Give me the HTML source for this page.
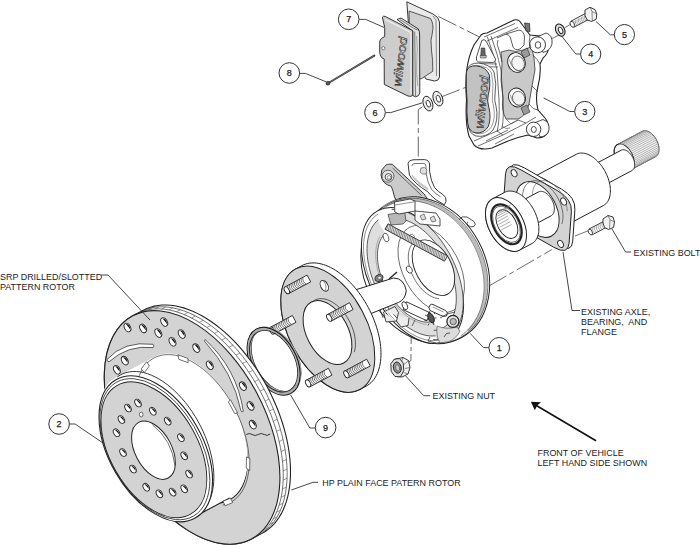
<!DOCTYPE html>
<html><head><meta charset="utf-8"><style>
html,body{margin:0;padding:0;background:#fff;width:700px;height:545px;overflow:hidden}
svg{display:block;position:absolute;left:0;top:0}
text{font-family:"Liberation Sans",sans-serif;font-size:8.95px;fill:#222}
.c{fill:#fff;stroke:#333;stroke-width:1}
.n{text-anchor:middle;font-size:9px;fill:#222;stroke:#222;stroke-width:0.25}
.l{fill:none;stroke:#333;stroke-width:0.9}
.d{fill:none;stroke:#444;stroke-width:0.9;stroke-dasharray:7 3 2 3}
.k{stroke:#222;stroke-width:0.9;stroke-linejoin:round}
.g{fill:#dcdcdc}
.w{fill:#fff}
.logo{font-family:"Liberation Sans",sans-serif;font-style:italic;fill:#f4f4f4;stroke:#333;stroke-width:0.55}
</style></head><body>
<svg width="700" height="545" viewBox="0 0 700 545">
<!--PARTS-->
<path d="M438.5,16.5 L478.9,36.7" stroke="#444" stroke-width="0.8" stroke-dasharray="20 3.5 5 3.5" fill="none"/>
<path d="M441,97 L473.4,84.4" stroke="#444" stroke-width="0.8" stroke-dasharray="20 3.5 5 3.5" fill="none"/>
<path d="M422.5,106.8 L418.3,109.5 L418.3,158" stroke="#444" stroke-width="0.8" stroke-dasharray="20 3.5 5 3.5" fill="none"/>
<path d="M489,286 L551.8,249.6" stroke="#444" stroke-width="0.8" stroke-dasharray="20 3.5 5 3.5" fill="none"/>
<path d="M411.4,322 L410.9,360.5 L406.6,364" stroke="#444" stroke-width="0.8" stroke-dasharray="22 3 4 3" fill="none"/>
<path d="M549,40 L563,33" stroke="#333" stroke-width="0.7"/>
<path d="M565,27.5 L570,24.6" stroke="#333" stroke-width="0.7"/>
<path d="M575,236 L590,230" stroke="#333" stroke-width="0.7"/>
<path d="M406.8,1.8 L433,14 Q439,17 439.5,22 L439.5,77 Q439,81 434.5,81 L426,79 L424,76 L412,71 Z" fill="#eaeaea" stroke="#222" stroke-width="0.9"/>
<path d="M409,11 L430.5,18.5 Q434,24 432.5,32 Q430,40 431.5,50 Q433,60 432.8,71.3 L421,79 L414,76 L409.5,30 Z" fill="#cfcfcf" stroke="#333" stroke-width="0.8"/>
<path d="M433,16 L436,20 L436.5,76" fill="none" stroke="#444" stroke-width="0.6"/>
<path d="M397,19.5 L401,18 L418.2,28.8 Q419.6,31 419.6,34 L419.8,93 Q419,96.5 415.5,96.8 L412.7,95.5 L412.7,31 Z" fill="#e3e3e3" stroke="#222" stroke-width="0.9"/>
<path d="M400,19.6 L415,29 L418.8,30.2 M414.7,31.6 L415.5,96" fill="none" stroke="#333" stroke-width="0.6"/>
<path d="M416.5,36 Q418,48 416.8,60 Q416,72 417.8,86" fill="none" stroke="#666" stroke-width="0.5"/>
<path d="M382.4,17.2 Q383,15.8 385.2,16.4 L412.7,30.6 L412.7,95.5 Q411,97 408,96 L384.3,84.5 L384.2,59 Q379.2,57.5 379.7,50 L379.8,41 Q380.5,38.2 384.7,36.5 L384.7,27.5 Z" fill="#cdcdcd" stroke="#222" stroke-width="0.9"/>
<path d="M385.3,19.5 L411,32.5 L411,94" fill="none" stroke="#f2f2f2" stroke-width="1.1"/>
<circle cx="383.3" cy="48.2" r="1.6" fill="#fff" stroke="#333" stroke-width="0.6"/>
<text transform="translate(401,87) rotate(-83)" class="logo" style="font-size:12px" textLength="50" lengthAdjust="spacingAndGlyphs">wilwood</text>
<path d="M481,35 Q483,33 487,33 L514,20 Q519,19 521,23 L524,27 L530,35 L540,36 Q549,38 549,47 Q548,54 543,58 L540,64 Q541,75 538,86 Q535,98 538,110 L545,118 Q550,124 548,132 Q545,138 537,138 L528,135 Q518,137 508,141 L492,148 Q480,151 474,145 L469,136 Q465,122 466.5,100 Q465,82 467,68 Q469,55 474,45 Z" fill="#fff" stroke="#222" stroke-width="1.1"/>
<path d="M501,52 L509,50 Q515,53 523,50 L531,47 Q533,52 534,58 L535,70 L532,86 L529,104 Q526,116 518,119 L506,119 Q501,110 503,98 L501,80 L502,64 Z" fill="#c9c9c9" stroke="#333" stroke-width="0.8"/>
<ellipse cx="516.5" cy="62.5" rx="8.6" ry="10.0" transform="rotate(-22 516.5 62.5)" fill="#fff" stroke="#222" stroke-width="0.9"/>
<ellipse cx="518.1" cy="63.3" rx="6.2" ry="7.4" transform="rotate(-22 518.1 63.3)" fill="#f4f4f4" stroke="#444" stroke-width="0.7"/>
<path d="M509.5,59.5 Q511.5,70.0 520.0,71.5" fill="none" stroke="#555" stroke-width="0.6"/>
<ellipse cx="517" cy="97.5" rx="8.3" ry="9.6" transform="rotate(-22 517 97.5)" fill="#fff" stroke="#222" stroke-width="0.9"/>
<ellipse cx="518.6" cy="98.3" rx="6.0" ry="7.1" transform="rotate(-22 518.6 98.3)" fill="#f4f4f4" stroke="#444" stroke-width="0.7"/>
<path d="M510.3,94.6 Q512.2,104.7 520.4,106.1" fill="none" stroke="#555" stroke-width="0.6"/>
<path d="M484,37 L515,23.5 M487,41 L518,27.5" stroke="#333" stroke-width="0.7" fill="none"/>
<path d="M497,38 L505,34.5 Q509,34 510.5,38 L513,47 Q515,51 520,49 L524,45 M506,34 L519,30 Q524,31 524.5,37 L524,45" fill="none" stroke="#333" stroke-width="0.8"/>
<path d="M498,40 Q496,44 499,50 L502,62" fill="none" stroke="#333" stroke-width="0.7"/>
<path d="M487.3,36.6 Q494,55 497,70 L499,100 Q500,120 497,132 M491,36 Q498,55 501,70 L503,100 Q504,118 502,128" fill="none" stroke="#333" stroke-width="0.7"/>
<path d="M481.8,40.5 Q484,38.5 486,41 L495.5,59 Q496,62.5 492.5,62.5 L478.5,62 Q475.5,61 476.5,57 Z" fill="#fff" stroke="#222" stroke-width="0.8"/>
<path d="M481.3,48 L484.7,48 L485.3,55.5 L480.8,55.5 Z" fill="#666" stroke="#222" stroke-width="0.6"/><path d="M480,55.5 L486.5,55.5 L486,58 L480.5,58 Z" fill="#bbb" stroke="#222" stroke-width="0.5"/>
<path d="M476,63.5 L497,64 M476.5,66.5 L498,67" stroke="#333" stroke-width="0.7"/>
<path d="M467,69 Q470,63 478,63 Q490,64 494,72 Q497,84 495,95 Q494,100 496,106 Q499,120 493,130 Q486,138 476,136 Q469,134 468,124 Q466,112 467,100 Q466,84 467,69 Z" fill="#fff" stroke="#333" stroke-width="0.8"/>
<path d="M468.5,70 Q471,65.5 478,65.5 Q488,66.5 491.5,73 Q494,84 492.5,95 Q491.5,100 493.5,106 Q496,119 491,127.5 Q485,135 477,133.5 Q471,132 470,123 Q468.5,112 469,100 Q468.5,84 468.5,70 Z" fill="none" stroke="#555" stroke-width="0.6"/>
<path d="M466.3,72 Q468.3,65.3 476,65.8 Q486.5,67 489.3,75 Q490.8,87 488.2,95 Q486.8,101 488.8,107 Q491.5,118 488.3,126.5 Q484,133.5 476,133 Q468.8,132 467.8,123.5 Q466.3,112 467.1,101 Q465.8,87 466.3,72 Z" fill="#c2c2c2" stroke="#222" stroke-width="0.9"/>
<text transform="translate(483.2,129) rotate(-84)" class="logo" style="font-size:12.5px" textLength="53" lengthAdjust="spacingAndGlyphs">wilwood</text>
<path d="M537,37 L546,33 Q553,35 552,44 Q550,51 543,52.5 Z" fill="#fff" stroke="#222" stroke-width="0.8"/>
<circle cx="537.5" cy="44.8" r="8" fill="#fff" stroke="#222" stroke-width="0.9"/><ellipse cx="538" cy="45" rx="2.8" ry="3.3" fill="#fff" stroke="#222" stroke-width="0.8"/>
<path d="M534,123 L543,119.5 Q550,122 549,130 Q547,136.5 540,137 Z" fill="#fff" stroke="#222" stroke-width="0.8"/>
<circle cx="533.6" cy="129.3" r="7.2" fill="#fff" stroke="#222" stroke-width="0.9"/><ellipse cx="533.8" cy="129.5" rx="2.5" ry="3" fill="#fff" stroke="#222" stroke-width="0.8"/>
<path d="M524.5,23 L526,31 L530,31.5 L529.5,23.5 Z" fill="#777" stroke="#222" stroke-width="0.7"/>
<path d="M530,35 Q528,42 531,48 M533,55 Q538,60 540,64 M532,86 Q536,90 538,92 M529,104 Q533,110 538,110" fill="none" stroke="#333" stroke-width="0.7"/>
<path d="M521,52 L527,48 L530,55 L524,58 Z M521,108 L527,105 L530,112 L524,115 Z" fill="#999" stroke="#222" stroke-width="0.6"/>
<path d="M474,141 L497,131 L518,120 M478,146 L503,135 L526,123 L536,117 M497,131 L503,135 M518,120 L526,123 M486,141 L508,130 M495,144 L514,134" fill="none" stroke="#333" stroke-width="0.7"/>
<path d="M506,119 L511,124 L518,120 M502,126 Q506,130 510,128" fill="none" stroke="#444" stroke-width="0.6"/>
<path d="M328.5,83 L374.3,55.6" stroke="#333" stroke-width="2" stroke-linecap="round"/>
<path d="M329,82.7 L374,55.8" stroke="#888" stroke-width="0.7"/>
<circle cx="328" cy="83.2" r="1.9" fill="#555" stroke="#222" stroke-width="0.6"/>
<ellipse cx="437.9" cy="98.6" rx="4.6" ry="7.6" transform="rotate(-20 437.9 98.6)" fill="#eee" stroke="#222" stroke-width="0.9"/>
<ellipse cx="438.29999999999995" cy="98.89999999999999" rx="2" ry="3.6" transform="rotate(-20 437.9 98.6)" fill="#fff" stroke="#222" stroke-width="0.8"/>
<ellipse cx="427.9" cy="103.6" rx="4.6" ry="7.6" transform="rotate(-20 427.9 103.6)" fill="#eee" stroke="#222" stroke-width="0.9"/>
<ellipse cx="428.29999999999995" cy="103.89999999999999" rx="2" ry="3.6" transform="rotate(-20 427.9 103.6)" fill="#fff" stroke="#222" stroke-width="0.8"/>
<ellipse cx="560.2" cy="30.1" rx="4.4" ry="6.4" transform="rotate(-25 560.2 30.1)" fill="#ddd" stroke="#222" stroke-width="1.1"/>
<ellipse cx="560.6" cy="30.4" rx="2" ry="3.4" transform="rotate(-25 560.6 30.4)" fill="#fff" stroke="#222" stroke-width="0.9"/>
<path d="M587.5,12.3 L571,21.2 L573.8,27.2 L590.5,18.5 Z" fill="#fff" stroke="#222" stroke-width="0.9"/>
<path d="M574.0,21.0 q-0.9,3 1.6,5.6 M575.5,20.2 q-0.9,3 1.6,5.6 M577.0,19.4 q-0.9,3 1.6,5.6 M578.5,18.6 q-0.9,3 1.6,5.6 M580.0,17.8 q-0.9,3 1.6,5.6 M581.5,16.9 q-0.9,3 1.6,5.6 M583.0,16.1 q-0.9,3 1.6,5.6 M584.5,15.3 q-0.9,3 1.6,5.6 M586.0,14.5 q-0.9,3 1.6,5.6" fill="none" stroke="#666" stroke-width="0.55"/>
<ellipse cx="572.3" cy="24.3" rx="1.9" ry="3.2" transform="rotate(-28 572.3 24.3)" fill="#fff" stroke="#222" stroke-width="0.8"/>
<path d="M585,10 L590,7.3 L595,9.6 L596.8,14 L596.2,19.3 L591.5,21.5 L587,19.8 L585,15.5 Z" fill="#f2f2f2" stroke="#222" stroke-width="0.9"/>
<path d="M590,7.3 L592,11.5 L592.3,20.8 M592,11.5 L596.8,14" fill="none" stroke="#444" stroke-width="0.6"/>
<path d="M604.6,221 L589,229 L591.8,235 L607,227 Z" fill="#fff" stroke="#222" stroke-width="0.9"/>
<path d="M591.0,228.8 q-0.9,3 1.6,5.4 M592.8,227.8 q-0.9,3 1.6,5.4 M594.7,226.9 q-0.9,3 1.6,5.4 M596.5,225.9 q-0.9,3 1.6,5.4 M598.3,224.9 q-0.9,3 1.6,5.4 M600.2,224.0 q-0.9,3 1.6,5.4 M602.0,223.0 q-0.9,3 1.6,5.4" fill="none" stroke="#666" stroke-width="0.55"/>
<ellipse cx="590.3" cy="232" rx="1.8" ry="3" transform="rotate(-28 590.3 232)" fill="#fff" stroke="#222" stroke-width="0.8"/>
<path d="M603,219 L608,215.5 L613,217 L614.5,222 L613.5,227.5 L608.5,229.5 L604.5,227.5 L603,223 Z" fill="#f2f2f2" stroke="#222" stroke-width="0.9"/>
<path d="M608,215.5 L610,219.8 L609.5,229 M610,219.8 L614.5,222" fill="none" stroke="#444" stroke-width="0.6"/>
<path d="M394,359.5 L403,357.5 L408.5,360.5 L410,367.5 L408,374 L402,377 L396.5,376.5 Z" fill="#f0f0f0" stroke="#222" stroke-width="0.9"/>
<path d="M403,357.5 L401.5,362 M408.5,360.5 L404,364.5 M410,367.5 L405,368.5 M408,374 L403.5,372.5" fill="none" stroke="#444" stroke-width="0.6"/>
<path d="M394.2,359.3 L399.5,358.5 L403.2,363 L403.8,370.5 L400.5,376.8 L395,376.5 L391.2,371.5 L390.8,363.8 Z" fill="#e2e2e2" stroke="#222" stroke-width="0.9"/>
<ellipse cx="397.3" cy="367.6" rx="3.9" ry="5.6" transform="rotate(-12 397.3 367.6)" fill="#999" stroke="#222" stroke-width="0.9"/>
<ellipse cx="397.6" cy="367.8" rx="2" ry="3.2" transform="rotate(-12 397.6 367.8)" fill="#ccc" stroke="#444" stroke-width="0.6"/>
<path d="M630.92,169.75 L630.37,170.00 L629.80,170.18 L629.19,170.31 L628.57,170.37 L627.92,170.36 L627.25,170.29 L626.57,170.16 L625.88,169.96 L625.18,169.70 L624.48,169.38 L623.77,169.00 L623.07,168.56 L622.37,168.07 L621.68,167.52 L621.00,166.92 L620.34,166.28 L619.69,165.58 L619.07,164.85 L618.48,164.08 L617.91,163.28 L617.37,162.45 L616.87,161.59 L616.40,160.71 L615.97,159.81 L615.58,158.89 L615.23,157.97 L614.92,157.05 L614.66,156.12 L614.45,155.21 L614.29,154.30 L614.17,153.40 L614.10,152.52 L614.08,151.66 L614.11,150.84 L614.19,150.04 L614.32,149.27 L614.50,148.55 L614.72,147.86 L614.99,147.22 L615.30,146.63 L615.66,146.09 L616.06,145.61 L616.50,145.18 L616.98,144.81 L617.49,144.49 L642.21,131.35 L642.62,131.16 L643.04,131.00 L643.48,130.87 L643.93,130.79 L644.40,130.74 L644.88,130.72 L645.37,130.74 L645.87,130.80 L646.38,130.90 L646.90,131.03 L647.42,131.19 L647.95,131.39 L648.48,131.63 L649.01,131.90 L649.54,132.20 L650.06,132.53 L650.59,132.90 L651.11,133.29 L651.62,133.72 L652.13,134.17 L652.63,134.65 L653.12,135.16 L653.59,135.69 L654.06,136.24 L654.51,136.82 L654.94,137.41 L655.36,138.02 L655.76,138.65 L656.14,139.29 L656.50,139.95 L656.84,140.61 L657.16,141.29 L657.46,141.97 L657.73,142.66 L657.98,143.35 L658.20,144.05 L658.40,144.74 L658.58,145.43 L658.72,146.12 L658.84,146.80 L658.94,147.47 L659.00,148.14 L659.04,148.79 L659.05,149.43 L659.03,150.05 L658.98,150.66 L658.91,151.25 L658.81,151.82 L658.68,152.37 L658.53,152.90 L658.35,153.40 L658.14,153.87 L657.91,154.32 L657.65,154.74 L657.37,155.13 L657.07,155.49 L656.74,155.82 L656.39,156.11 L656.03,156.37 L655.64,156.60 Z" fill="#f4f4f4" stroke="#222" stroke-width="0.9"/>
<path d="M617.8,144.4 L642.5,131.2 M618.9,144.0 L643.6,130.8 M620.2,143.9 L644.9,130.7 M621.5,144.0 L646.2,130.9 M622.9,144.4 L647.6,131.3 M624.3,145.0 L649.0,131.9 M625.7,145.9 L650.4,132.8 M627.1,147.0 L651.8,133.9 M628.4,148.3 L653.1,135.2 M629.6,149.8 L654.4,136.6 M630.8,151.4 L655.5,138.2 M631.8,153.1 L656.5,139.9 M632.6,154.9 L657.4,141.7 M633.3,156.7 L658.1,143.6 M633.9,158.6 L658.6,145.4 M634.2,160.4 L658.9,147.2 M634.3,162.2 L659.0,149.0 M634.3,163.8 L659.0,150.7 M634.0,165.3 L658.7,152.2 M633.6,166.7 L658.3,153.6 M632.9,167.9 L657.7,154.7 M632.1,168.9 L656.9,155.7 M631.2,169.6 L655.9,156.5" stroke="#888" stroke-width="0.6"/>
<ellipse transform="translate(624.20,157.12) rotate(-28)" rx="8.58" ry="14.30" fill="none" stroke="#222" stroke-width="0.9"/>
<path d="M590.86,192.40 L590.43,192.60 L589.96,192.75 L589.48,192.85 L588.98,192.90 L588.45,192.90 L587.92,192.84 L587.37,192.73 L586.82,192.58 L586.25,192.37 L585.69,192.11 L585.12,191.80 L584.55,191.45 L583.99,191.05 L583.43,190.61 L582.89,190.13 L582.36,189.61 L581.84,189.05 L581.34,188.47 L580.86,187.85 L580.40,187.20 L579.97,186.53 L579.57,185.84 L579.19,185.13 L578.84,184.41 L578.53,183.67 L578.25,182.93 L578.00,182.19 L577.79,181.45 L577.62,180.71 L577.49,179.98 L577.40,179.26 L577.34,178.55 L577.33,177.86 L577.35,177.19 L577.41,176.55 L577.52,175.94 L577.66,175.35 L577.84,174.80 L578.06,174.29 L578.31,173.81 L578.60,173.38 L578.92,172.99 L579.27,172.64 L579.65,172.34 L580.07,172.09 L621.12,150.26 L621.45,150.11 L621.79,149.98 L622.14,149.88 L622.51,149.81 L622.88,149.77 L623.27,149.76 L623.67,149.78 L624.07,149.82 L624.48,149.90 L624.89,150.00 L625.31,150.14 L625.74,150.30 L626.16,150.49 L626.59,150.70 L627.01,150.95 L627.44,151.22 L627.86,151.51 L628.28,151.83 L628.69,152.17 L629.10,152.53 L629.50,152.92 L629.89,153.33 L630.28,153.75 L630.65,154.20 L631.01,154.66 L631.36,155.14 L631.70,155.63 L632.02,156.13 L632.32,156.65 L632.61,157.18 L632.89,157.71 L633.15,158.26 L633.38,158.81 L633.60,159.36 L633.80,159.92 L633.98,160.47 L634.14,161.03 L634.28,161.59 L634.40,162.14 L634.50,162.69 L634.57,163.23 L634.62,163.76 L634.65,164.29 L634.66,164.80 L634.65,165.31 L634.61,165.80 L634.55,166.27 L634.47,166.73 L634.37,167.17 L634.24,167.59 L634.10,167.99 L633.93,168.38 L633.75,168.74 L633.54,169.07 L633.31,169.39 L633.07,169.68 L632.81,169.94 L632.53,170.18 L632.23,170.39 L631.92,170.57 Z" fill="#fff" stroke="#222" stroke-width="1"/>
<path d="M558.46,229.45 L557.36,229.96 L556.19,230.34 L554.97,230.59 L553.70,230.71 L552.39,230.70 L551.04,230.56 L549.66,230.29 L548.25,229.89 L546.83,229.36 L545.40,228.71 L543.97,227.94 L542.54,227.05 L541.13,226.04 L539.73,224.93 L538.35,223.72 L537.01,222.41 L535.71,221.01 L534.45,219.52 L533.24,217.96 L532.08,216.33 L530.99,214.64 L529.97,212.90 L529.02,211.11 L528.15,209.29 L527.36,207.44 L526.65,205.57 L526.03,203.70 L525.50,201.83 L525.07,199.96 L524.74,198.11 L524.50,196.30 L524.36,194.52 L524.32,192.78 L524.38,191.10 L524.54,189.48 L524.80,187.93 L525.16,186.46 L525.62,185.07 L526.16,183.77 L526.80,182.58 L527.53,181.48 L528.34,180.50 L529.23,179.62 L530.20,178.87 L531.24,178.24 L576.27,154.29 L577.09,153.90 L577.95,153.58 L578.84,153.33 L579.76,153.16 L580.71,153.05 L581.68,153.02 L582.68,153.07 L583.69,153.19 L584.72,153.38 L585.77,153.64 L586.83,153.98 L587.90,154.38 L588.97,154.86 L590.04,155.41 L591.12,156.02 L592.19,156.70 L593.25,157.44 L594.31,158.24 L595.35,159.10 L596.38,160.02 L597.39,161.00 L598.38,162.02 L599.34,163.10 L600.28,164.22 L601.20,165.38 L602.08,166.59 L602.92,167.83 L603.74,169.10 L604.51,170.40 L605.24,171.73 L605.93,173.08 L606.58,174.45 L607.18,175.84 L607.74,177.23 L608.24,178.64 L608.70,180.04 L609.10,181.45 L609.45,182.85 L609.75,184.25 L609.99,185.63 L610.18,187.00 L610.31,188.34 L610.39,189.67 L610.41,190.96 L610.37,192.23 L610.28,193.46 L610.13,194.66 L609.92,195.81 L609.67,196.93 L609.35,197.99 L608.99,199.01 L608.57,199.97 L608.10,200.88 L607.58,201.73 L607.01,202.52 L606.39,203.25 L605.73,203.91 L605.03,204.51 L604.28,205.04 L603.49,205.51 Z" fill="#fff" stroke="#222" stroke-width="1"/>
<path d="M528.36,209.75 L527.53,207.88 L526.80,205.98 L526.15,204.08 L525.60,202.18 L525.14,200.28 L524.78,198.40 L524.53,196.55 L524.37,194.74 L524.32,192.97 L524.37,191.25 L524.53,189.60 L524.79,188.02 L525.14,186.52 L525.60,185.11 L526.15,183.79 L526.80,182.58 L527.54,181.47 L528.36,180.47 L529.27,179.59 L530.26,178.83 L531.32,178.19 L532.45,177.69 L533.64,177.32 L534.88,177.08 L536.18,176.97 L537.52,177.00 L538.90,177.17 L540.30,177.47 L541.73,177.90 L543.18,178.46 L544.63,179.15 L546.09,179.96 L547.53,180.89 L548.97,181.94 L550.38,183.10 L551.77,184.37 L553.12,185.73 L554.43,187.18 L555.69,188.71 L556.90,190.33 L558.05,192.01 L559.13,193.74 L560.14,195.53 L561.07,197.37 L561.92,199.23 L562.69,201.12 L563.36,203.02 L563.94,204.92" fill="none" stroke="#222" stroke-width="0.9"/>
<path d="M509.1,172.0 Q509.9,159.6 524.4,167.9 L561.3,189.0 Q575.8,197.3 574.9,209.7 L572.7,241.3 Q571.8,253.7 557.3,245.4 L520.4,224.3 Q506.0,216.0 506.8,203.6 Z" fill="#fff" stroke="#222" stroke-width="1"/>
<path d="M505.5,173.9 Q506.4,161.5 520.9,169.8 L557.8,190.9 Q572.2,199.2 571.4,211.6 L569.1,243.1 Q568.3,255.5 553.8,247.3 L516.9,226.2 Q502.4,217.9 503.3,205.5 Z" fill="#d3d3d3" stroke="#222" stroke-width="1"/>
<ellipse transform="translate(537.50,209.50) rotate(-28)" rx="18.60" ry="30.00" fill="#fff" stroke="#222" stroke-width="0.9"/>
<path d="M522.95,201.38 L522.74,199.60 L522.62,197.85 L522.61,196.15 L522.70,194.50 L522.89,192.91 L523.17,191.39 L523.56,189.94 L524.03,188.58 L524.61,187.31 L525.27,186.13 L526.02,185.06 L526.85,184.09 L527.76,183.24 L528.75,182.50 L529.81,181.88 L530.93,181.39 L532.11,181.02 L533.34,180.77 L534.62,180.66 L535.94,180.68 L537.30,180.82 L538.68,181.10 L540.08,181.50 L541.50,182.02 L542.92,182.67 L544.34,183.44 L545.76,184.32 L547.15,185.32 L548.53,186.42 L549.88,187.62 L551.20,188.91 L552.47,190.30 L553.69,191.76 L554.86,193.30 L555.97,194.91 L557.02,196.57 L557.99,198.28 L558.89,200.04 L559.71,201.83 L560.45,203.64 L561.09,205.47 L561.65,207.31 L562.11,209.14 L562.48,210.96 L562.75,212.75 L562.92,214.52 L562.99,216.25 L562.96,217.93 L562.83,219.56 L562.60,221.12 L562.27,222.61 L561.85,224.02" fill="none" stroke="#444" stroke-width="0.7"/>
<path d="M533.66,202.24 L533.28,200.69 L532.97,199.15 L532.75,197.62 L532.61,196.12 L532.55,194.66 L532.58,193.23 L532.70,191.85 L532.89,190.53 L533.17,189.27 L533.53,188.07 L533.97,186.94 L534.49,185.90 L535.09,184.93 L535.75,184.06 L536.48,183.27 L537.28,182.58 L538.14,181.99 L539.06,181.51 L540.03,181.12 L541.05,180.85 L542.11,180.68 L543.21,180.62 L544.34,180.66 L545.49,180.82 L546.67,181.08 L547.87,181.45 L549.07,181.93 L550.28,182.51 L551.49,183.18 L552.68,183.95 L553.87,184.82 L555.03,185.77 L556.17,186.81 L557.28,187.93 L558.35,189.12 L559.38,190.37 L560.37,191.69 L561.30,193.06 L562.18,194.48 L563.00,195.94 L563.75,197.44 L564.44,198.96 L565.06,200.50 L565.60,202.05 L566.06,203.61 L566.45,205.16 L566.75,206.71 L566.97,208.23 L567.11,209.73 L567.17,211.20" fill="none" stroke="#555" stroke-width="0.6"/>
<ellipse transform="translate(514.1,173.2) rotate(-28)" rx="2.6" ry="3.8" fill="#fff" stroke="#222" stroke-width="0.9"/>
<ellipse transform="translate(563.6,201.5) rotate(-28)" rx="2.6" ry="3.8" fill="#fff" stroke="#222" stroke-width="0.9"/>
<ellipse transform="translate(560.6,243.9) rotate(-28)" rx="2.6" ry="3.8" fill="#fff" stroke="#222" stroke-width="0.9"/>
<ellipse transform="translate(511.1,215.6) rotate(-28)" rx="2.6" ry="3.8" fill="#fff" stroke="#222" stroke-width="0.9"/>
<path d="M512.34,236.42 L511.82,236.66 L511.28,236.83 L510.71,236.95 L510.12,237.01 L509.51,237.00 L508.88,236.94 L508.24,236.81 L507.58,236.62 L506.92,236.38 L506.26,236.08 L505.59,235.72 L504.93,235.30 L504.27,234.84 L503.61,234.32 L502.98,233.75 L502.35,233.14 L501.74,232.49 L501.16,231.80 L500.59,231.07 L500.06,230.31 L499.55,229.53 L499.07,228.72 L498.63,227.88 L498.22,227.04 L497.86,226.18 L497.53,225.31 L497.24,224.43 L496.99,223.56 L496.79,222.69 L496.64,221.83 L496.53,220.99 L496.46,220.16 L496.44,219.35 L496.47,218.57 L496.55,217.81 L496.67,217.09 L496.84,216.41 L497.05,215.76 L497.30,215.16 L497.60,214.60 L497.94,214.09 L498.31,213.63 L498.73,213.23 L499.18,212.87 L499.66,212.58 L538.51,191.92 L538.89,191.74 L539.29,191.59 L539.71,191.48 L540.14,191.39 L540.58,191.35 L541.03,191.33 L541.50,191.35 L541.97,191.41 L542.45,191.50 L542.94,191.62 L543.43,191.78 L543.93,191.96 L544.43,192.19 L544.93,192.44 L545.43,192.73 L545.92,193.04 L546.42,193.39 L546.91,193.76 L547.40,194.16 L547.87,194.59 L548.34,195.04 L548.81,195.52 L549.26,196.02 L549.69,196.54 L550.12,197.09 L550.53,197.65 L550.92,198.22 L551.30,198.82 L551.66,199.42 L552.00,200.04 L552.32,200.67 L552.62,201.31 L552.90,201.95 L553.16,202.60 L553.40,203.26 L553.61,203.91 L553.80,204.56 L553.96,205.22 L554.10,205.87 L554.21,206.51 L554.30,207.15 L554.36,207.77 L554.40,208.39 L554.41,208.99 L554.39,209.58 L554.35,210.16 L554.28,210.71 L554.18,211.25 L554.06,211.77 L553.91,212.26 L553.74,212.74 L553.55,213.19 L553.33,213.61 L553.09,214.00 L552.82,214.37 L552.54,214.71 L552.23,215.02 L551.90,215.30 L551.55,215.55 L551.19,215.76 Z" fill="#fff" stroke="#222" stroke-width="1"/>
<path d="M519.61,250.11 L518.51,250.61 L517.34,250.99 L516.12,251.24 L514.85,251.37 L513.54,251.36 L512.19,251.21 L510.81,250.94 L509.40,250.54 L507.98,250.02 L506.55,249.37 L505.12,248.59 L503.69,247.70 L502.28,246.70 L500.88,245.59 L499.50,244.38 L498.16,243.07 L496.86,241.67 L495.60,240.18 L494.39,238.62 L493.23,236.99 L492.14,235.30 L491.12,233.56 L490.17,231.77 L489.30,229.95 L488.51,228.10 L487.80,226.23 L487.18,224.36 L486.66,222.48 L486.22,220.62 L485.89,218.77 L485.65,216.95 L485.51,215.17 L485.47,213.44 L485.53,211.76 L485.70,210.14 L485.96,208.59 L486.31,207.11 L486.77,205.73 L487.31,204.43 L487.95,203.23 L488.68,202.14 L489.49,201.15 L490.38,200.28 L491.35,199.53 L492.39,198.89 L504.75,192.32 L505.57,191.93 L506.43,191.61 L507.32,191.36 L508.24,191.18 L509.19,191.08 L510.16,191.05 L511.16,191.10 L512.17,191.21 L513.21,191.40 L514.25,191.67 L515.31,192.00 L516.38,192.41 L517.45,192.89 L518.52,193.43 L519.60,194.05 L520.67,194.72 L521.73,195.46 L522.79,196.27 L523.83,197.13 L524.86,198.05 L525.87,199.02 L526.86,200.05 L527.83,201.12 L528.77,202.25 L529.68,203.41 L530.56,204.61 L531.41,205.85 L532.22,207.13 L532.99,208.43 L533.72,209.76 L534.42,211.11 L535.06,212.48 L535.67,213.86 L536.22,215.26 L536.72,216.66 L537.18,218.07 L537.58,219.48 L537.93,220.88 L538.23,222.27 L538.47,223.66 L538.66,225.02 L538.79,226.37 L538.87,227.69 L538.89,228.99 L538.85,230.26 L538.76,231.49 L538.61,232.69 L538.41,233.84 L538.15,234.95 L537.83,236.02 L537.47,237.03 L537.05,238.00 L536.58,238.90 L536.06,239.76 L535.49,240.55 L534.87,241.27 L534.21,241.94 L533.51,242.54 L532.76,243.07 L531.98,243.53 Z" fill="#fff" stroke="#222" stroke-width="1"/>
<ellipse transform="translate(506.00,224.50) rotate(-28)" rx="17.40" ry="29.00" fill="#fff" stroke="#222" stroke-width="1"/>
<ellipse transform="translate(506.44,224.27) rotate(-28)" rx="12.90" ry="21.50" fill="#fff" stroke="#222" stroke-width="2.2"/>
<ellipse transform="translate(506.44,224.27) rotate(-28)" rx="11.76" ry="19.60" fill="#fff" stroke="#444" stroke-width="0.7"/>
<ellipse transform="translate(506.88,224.03) rotate(-28)" rx="9.30" ry="15.50" fill="#fff" stroke="#222" stroke-width="0.9"/>
<path d="M501.2,230.0 L511.8,224.4 M499.6,227.3 L510.2,221.7 M498.4,224.5 L508.9,218.8 M497.5,221.6 L508.1,215.9 M497.2,218.7 L507.8,213.1 M497.3,216.1 L507.9,210.5 M497.8,213.9 L508.4,208.2 M498.8,212.0 L509.4,206.4 M500.2,210.6 L510.8,205.0" stroke="#777" stroke-width="0.6"/>
<path d="M384.6,166.5 Q386,163.5 392.3,164.3 L424.2,194 L430,203 L402,208 Q396,203 394.5,197 Q393,190 391.2,186.3 Q382,184 381,175 Q381,169 384.6,166.5 Z" fill="#cbcbcb" stroke="#222" stroke-width="0.9"/>
<path d="M392.8,168.2 L421.5,195.5" stroke="#333" stroke-width="0.7"/>
<circle cx="388" cy="176.2" r="6" fill="#e6e6e6" stroke="#333" stroke-width="0.7"/>
<circle cx="388.5" cy="177" r="3.4" fill="#fff" stroke="#222" stroke-width="0.8"/><circle cx="389" cy="177.4" r="1.8" fill="#fff" stroke="#444" stroke-width="0.6"/>
<path d="M408,163.2 Q409,160 413,159.8 L424.5,159.6 Q429.6,160.2 429.6,165 L429.6,171.5 Q430.8,181 434.6,187.6 Q438.5,192.2 442.8,194.4 Q446.8,197 446,201.4 L444.3,204.8 L436,199.8 Q430,194.8 427.6,191.6 Q414,183.5 409.4,175 Z" fill="#fff" stroke="#222" stroke-width="0.9"/>
<path d="M411.8,166 Q412.3,163.6 415,163.5 L424,163.4 Q426,163.8 426,166.5 L426,173 Q427.5,183 431.6,189.5 Q436,194 440.5,196.8" fill="none" stroke="#333" stroke-width="0.7"/>
<path d="M411.8,166 L411.8,174 Q418,181.5 427.6,187.5 Q429,189 428,190.5 Q415,183 411.8,176 Z" fill="#c8c8c8" stroke="none"/>
<path d="M421,168 Q425,166 427,170 L426,174 Q422,175 420,172 Z" fill="#e0e0e0" stroke="#444" stroke-width="0.6"/>
<ellipse transform="translate(425.30,270.20) rotate(-28)" rx="60.44" ry="76.50" fill="#fff" stroke="#222" stroke-width="1"/>
<path d="M382.63,207.82 L386.19,205.61 L389.92,203.74 L393.82,202.19 L397.86,200.99 L402.02,200.14 L406.28,199.64 L410.62,199.49 L415.02,199.71 L419.45,200.27 L423.90,201.19 L428.35,202.46 L432.76,204.06 L437.12,206.00 L441.41,208.27 L445.61,210.85 L449.70,213.72 L453.65,216.88 L457.44,220.32 L461.07,224.00 L464.50,227.92 L467.73,232.06 L470.73,236.39 L473.50,240.90 L476.01,245.56 L478.26,250.35 L480.24,255.24 L481.93,260.21 L483.33,265.24 L484.42,270.30 L485.22,275.37 L485.70,280.42 L485.87,285.43 L485.73,290.37 L485.28,295.22 L484.52,299.95 L483.45,304.54 L482.08,308.97 L480.42,313.22 L478.47,317.26 L476.25,321.08 L473.76,324.66 L471.01,327.97 L468.03,331.01" fill="none" stroke="#bbb" stroke-width="3"/>
<path d="M379.78,209.75 L383.09,207.15 L386.61,204.86 L390.30,202.90 L394.16,201.27 L398.17,199.97 L402.30,199.02 L406.54,198.42 L410.86,198.18 L415.25,198.28 L419.68,198.74 L424.13,199.56 L428.58,200.72 L433.01,202.22 L437.39,204.05 L441.72,206.22 L445.95,208.69 L450.08,211.47 L454.08,214.54 L457.94,217.88 L461.63,221.48 L465.13,225.33 L468.44,229.39 L471.53,233.65 L474.39,238.10 L477.01,242.71 L479.36,247.45 L481.45,252.31 L483.26,257.26 L484.78,262.27 L486.00,267.33 L486.92,272.40 L487.54,277.46 L487.84,282.50 L487.84,287.47 L487.52,292.37 L486.90,297.16 L485.97,301.82 L484.74,306.34 L483.21,310.67 L481.39,314.82 L479.30,318.75 L476.93,322.45 L474.31,325.89 L471.45,329.07 L468.35,331.97 L465.04,334.56 L461.52,336.85 L457.83,338.81 L453.97,340.45 L449.96,341.74" fill="none" stroke="#333" stroke-width="0.7"/>
<path d="M385.85,206.23 L389.65,204.43 L393.61,202.96 L397.71,201.85 L401.93,201.09 L406.24,200.69 L410.63,200.66 L415.07,200.98 L419.54,201.67 L424.02,202.71 L428.48,204.11 L432.91,205.85 L437.27,207.93 L441.56,210.33 L445.74,213.04 L449.79,216.06 L453.70,219.36 L457.45,222.92 L461.01,226.74 L464.38,230.79 L467.52,235.04 L470.43,239.49 L473.09,244.10 L475.49,248.86 L477.61,253.73 L479.45,258.70 L480.99,263.74 L482.23,268.82 L483.17,273.92 L483.79,279.01 L484.09,284.07 L484.07,289.07 L483.74,293.99 L483.09,298.80 L482.13,303.47 L480.86,307.99 L479.29,312.33 L477.43,316.47 L475.28,320.39 L472.86,324.07 L470.17,327.48 L467.24,330.62 L464.08,333.46 L460.70,336.00" fill="none" stroke="#444" stroke-width="0.6"/>
<path d="M459,219.5 Q462,215.5 467,217 L474,221.5 Q476.8,224.5 473.8,226.6 Q470.2,227.8 467.6,225 Q466.2,223.2 467.8,222.2" fill="none" stroke="#222" stroke-width="0.8"/>
<ellipse transform="translate(412.50,275.50) rotate(-28)" rx="42.63" ry="73.50" fill="#fff" stroke="#222" stroke-width="1"/>
<path d="M440.21,334.67 L437.58,335.42 L434.82,335.87 L431.94,336.02 L428.97,335.86 L425.92,335.40 L422.79,334.63 L419.62,333.57 L416.41,332.21 L413.18,330.56 L409.94,328.64 L406.72,326.45 L403.53,324.00 L400.39,321.31 L397.30,318.38 L394.29,315.24 L391.38,311.90 L388.57,308.37 L385.88,304.68 L383.32,300.84 L380.92,296.87 L378.67,292.79 L376.59,288.63 L374.70,284.40 L372.99,280.13 L371.49,275.83 L370.19,271.53 L369.11,267.25 L368.25,263.01 L367.60,258.84 L367.19,254.75 L367.01,250.76 L367.05,246.90 L367.32,243.18 L367.83,239.63 L368.56,236.26 L369.51,233.08 L370.67,230.13 L372.05,227.40 L373.63,224.91 L375.41,222.68 L377.38,220.71 L385.42,233.26 L383.91,234.77 L382.53,236.49 L381.31,238.41 L380.25,240.52 L379.35,242.80 L378.62,245.24 L378.06,247.84 L377.67,250.58 L377.46,253.45 L377.42,256.43 L377.57,259.50 L377.89,262.65 L378.38,265.87 L379.05,269.14 L379.88,272.44 L380.88,275.75 L382.04,279.07 L383.36,282.36 L384.82,285.62 L386.42,288.83 L388.15,291.98 L390.01,295.03 L391.98,297.99 L394.05,300.84 L396.21,303.56 L398.46,306.14 L400.78,308.56 L403.16,310.82 L405.59,312.89 L408.05,314.78 L410.53,316.47 L413.02,317.95 L415.51,319.22 L417.99,320.27 L420.44,321.09 L422.84,321.68 L425.20,322.04 L427.49,322.16 L429.71,322.05 L431.83,321.70 L433.86,321.12 Z" fill="#dedede" stroke="none"/>
<path d="M444.32,338.38 L441.64,339.41 L438.83,340.14 L435.88,340.54 L432.82,340.63 L429.66,340.41 L426.42,339.86 L423.11,339.01 L419.75,337.84 L416.35,336.37 L412.94,334.60 L409.52,332.55 L406.12,330.22 L402.75,327.62 L399.42,324.77 L396.16,321.67 L392.98,318.36 L389.89,314.83 L386.92,311.11 L384.07,307.22 L381.35,303.17 L378.79,298.99 L376.40,294.70 L374.18,290.31 L372.14,285.85 L370.30,281.34 L368.67,276.80 L367.25,272.25 L366.06,267.72 L365.08,263.23 L364.34,258.79 L363.84,254.44 L363.57,250.19 L363.54,246.07 L363.75,242.09 L364.19,238.27 L364.87,234.63 L365.78,231.19 L366.93,227.97 L368.29,224.98 L369.87,222.23 L371.65,219.75 L373.64,217.53 L375.81,215.60 L378.16,213.96" fill="none" stroke="#444" stroke-width="0.6"/>
<path d="M440.21,334.67 L437.61,335.41 L434.88,335.87 L432.05,336.02 L429.12,335.88 L426.10,335.43 L423.02,334.70 L419.89,333.67 L416.72,332.35 L413.53,330.76 L410.34,328.89 L407.15,326.76 L403.99,324.37 L400.88,321.75 L397.82,318.89 L394.83,315.82 L391.93,312.56 L389.14,309.11 L386.45,305.50 L383.90,301.73 L381.49,297.84 L379.23,293.84 L377.13,289.75 L375.21,285.58 L373.47,281.37 L371.92,277.13 L370.58,272.88 L369.44,268.65 L368.51,264.44 L367.80,260.29 L367.31,256.22 L367.05,252.24 L367.01,248.38 L367.19,244.65 L367.59,241.07 L368.22,237.66 L369.06,234.44 L370.12,231.42 L371.39,228.62 L372.86,226.05 L374.53,223.73 L376.38,221.65 L378.41,219.85" fill="none" stroke="#333" stroke-width="0.8"/>
<path d="M431.36,321.80 L429.22,322.09 L427.00,322.15 L424.71,321.98 L422.35,321.58 L419.95,320.94 L417.51,320.08 L415.04,319.00 L412.56,317.70 L410.08,316.18 L407.62,314.47 L405.17,312.56 L402.77,310.46 L400.41,308.19 L398.12,305.76 L395.89,303.17 L393.75,300.45 L391.70,297.60 L389.76,294.64 L387.93,291.59 L386.22,288.45 L384.64,285.25 L383.20,282.00 L381.91,278.72 L380.78,275.43 L379.80,272.13 L378.98,268.85 L378.33,265.60 L377.86,262.41 L377.55,259.28 L377.42,256.22 L377.47,253.27 L377.69,250.43 L378.08,247.71 L378.65,245.13 L379.38,242.70 L380.29,240.44 L381.35,238.35 L382.57,236.45 L383.93,234.74" fill="none" stroke="#333" stroke-width="0.8"/>
<path d="M426.60,324.41 L424.19,324.12 L421.73,323.59 L419.22,322.83 L416.68,321.84 L414.11,320.62 L411.54,319.19 L408.98,317.54 L406.43,315.68 L403.91,313.63 L401.44,311.40 L399.01,308.99 L396.66,306.41 L394.38,303.69 L392.18,300.82 L390.09,297.84 L388.11,294.74 L386.24,291.56 L384.51,288.29 L382.91,284.96 L381.45,281.59 L380.14,278.18 L379.00,274.76 L378.01,271.35 L377.20,267.96 L376.55,264.60 L376.08,261.30 L375.79,258.06 L375.68,254.91 L375.75,251.86 L375.99,248.93 L376.42,246.12 L377.02,243.46 L377.79,240.96 L378.73,238.62 L379.84,236.46" fill="none" stroke="#777" stroke-width="0.5"/>
<ellipse transform="translate(431.23,268.94) rotate(-28)" rx="28.20" ry="47.00" fill="#fff" stroke="#444" stroke-width="0.7"/>
<path d="M403.65,211.05 L407.04,212.23 L410.45,213.71 L413.89,215.49 L417.33,217.56 L420.75,219.92 L424.14,222.54 L427.49,225.42 L430.76,228.54 L433.96,231.89 L437.06,235.45 L440.04,239.21 L442.90,243.13 L445.62,247.21 L448.18,251.43 L450.58,255.76 L452.80,260.19 L454.82,264.68 L456.65,269.22 L458.27,273.79 L459.67,278.37 L460.85,282.92 L461.79,287.43 L462.51,291.88 L462.98,296.25 L463.22,300.51 L463.21,304.63 L462.96,308.62 L462.48,312.43 L461.75,316.06 L460.79,319.48 L459.60,322.68 L458.19,325.64 L456.56,328.35 L454.72,330.80 L452.68,332.97 L450.45,334.85 L448.05,336.43 L445.48,337.71 L442.75,338.67 L439.88,339.33 L436.89,339.66 L433.68,330.42 L436.25,330.14 L438.71,329.58 L441.05,328.75 L443.26,327.65 L445.32,326.30 L447.23,324.68 L448.98,322.82 L450.56,320.72 L451.96,318.40 L453.17,315.85 L454.19,313.11 L455.01,310.17 L455.64,307.06 L456.06,303.79 L456.27,300.37 L456.27,296.83 L456.07,293.17 L455.67,289.43 L455.05,285.61 L454.24,281.73 L453.23,277.83 L452.03,273.90 L450.64,269.98 L449.07,266.08 L447.33,262.22 L445.43,258.43 L443.37,254.71 L441.17,251.09 L438.84,247.59 L436.39,244.22 L433.82,241.00 L431.16,237.95 L428.42,235.07 L425.61,232.39 L422.74,229.92 L419.83,227.67 L416.89,225.65 L413.94,223.87 L410.99,222.34 L408.06,221.07 L405.16,220.06 Z" fill="#dedede" stroke="none"/>
<path d="M391.64,209.47 L394.74,209.46 L397.94,209.77 L401.22,210.40 L404.56,211.34 L407.95,212.60 L411.38,214.16 L414.81,216.02 L418.25,218.17 L421.66,220.59 L425.04,223.28 L428.36,226.23 L431.62,229.41 L434.79,232.81 L437.86,236.42 L440.81,240.22 L443.63,244.19 L446.31,248.31 L448.83,252.55 L451.17,256.91 L453.34,261.35 L455.32,265.85 L457.09,270.40 L458.65,274.97 L459.99,279.54 L461.11,284.08 L462.00,288.58 L462.65,293.00 L463.07,297.34 L463.24,301.57 L463.17,305.66 L462.86,309.59 L462.31,313.36 L461.53,316.93 L460.51,320.30 L459.27,323.44 L457.80,326.34 L456.12,328.98 L454.23,331.36 L452.15,333.46 L449.88,335.26 L447.43,336.77 L444.82,337.97 L442.06,338.86 L439.17,339.44 L436.15,339.69 L433.02,339.62" fill="none" stroke="#333" stroke-width="0.8"/>
<path d="M405.16,220.06 L408.06,221.07 L410.99,222.34 L413.94,223.87 L416.89,225.65 L419.83,227.67 L422.74,229.92 L425.61,232.39 L428.42,235.07 L431.16,237.95 L433.82,241.00 L436.39,244.22 L438.84,247.59 L441.17,251.09 L443.37,254.71 L445.43,258.43 L447.33,262.22 L449.07,266.08 L450.64,269.98 L452.03,273.90 L453.23,277.83 L454.24,281.73 L455.05,285.61 L455.67,289.43 L456.07,293.17 L456.27,296.83 L456.27,300.37 L456.06,303.79 L455.64,307.06 L455.01,310.17 L454.19,313.11 L453.17,315.85 L451.96,318.40 L450.56,320.72 L448.98,322.82 L447.23,324.68 L445.32,326.30 L443.26,327.65 L441.05,328.75 L438.71,329.58 L436.25,330.14 L433.68,330.42" fill="none" stroke="#333" stroke-width="0.8"/>
<ellipse transform="translate(433.44,267.77) rotate(-28)" rx="18.00" ry="30.00" fill="#fff" stroke="#222" stroke-width="0.9"/>
<path d="M439.06,298.62 L437.55,298.46 L436.00,298.16 L434.43,297.70 L432.84,297.10 L431.25,296.36 L429.64,295.48 L428.05,294.47 L426.46,293.33 L424.90,292.07 L423.37,290.69 L421.88,289.21 L420.43,287.62 L419.04,285.94 L417.70,284.17 L416.43,282.33 L415.24,280.42 L414.12,278.45 L413.09,276.44 L412.14,274.39 L411.29,272.31 L410.54,270.22 L409.89,268.12 L409.35,266.03 L408.92,263.95 L408.60,261.90 L408.39,259.89 L408.29,257.92 L408.31,256.02 L408.44,254.17 L408.68,252.41 L409.04,250.73 L409.51,249.14 L410.08,247.65 L410.76,246.27 L411.54,245.01 L412.42,243.87 L413.39,242.86 L414.45,241.98" fill="none" stroke="#333" stroke-width="0.7"/>
<ellipse transform="translate(409.3,269.6) rotate(-28)" rx="2.6" ry="3.8" fill="#fff" stroke="#333" stroke-width="0.8"/>
<ellipse transform="translate(412.2,237.2) rotate(-28)" rx="2.2" ry="3.2" fill="#fff" stroke="#444" stroke-width="0.6"/>
<path d="M388,214.4 L404.7,212 L406,221 L403,224 L391,225 Z" fill="#b8b8b8" stroke="#333" stroke-width="0.7"/>
<path d="M394.5,202 L410,199 L415,201 L415,211 L399,214 L394.8,212 Z" fill="#fff" stroke="#222" stroke-width="0.8"/>
<path d="M394.8,205 L414.5,201.8" stroke="#444" stroke-width="0.6"/>
<path d="M415,211 L436,213 L440,219 L440,226 L420,224 L415,220 Z" fill="#fff" stroke="#222" stroke-width="0.8"/>
<path d="M420,216 L424,214 L426,219 L422,220 Z M430,218 L434,216 L436,221 L432,222 Z" fill="#ddd" stroke="#333" stroke-width="0.6"/>
<path d="M385.0,229.2 L444.5,261.2 L447.5,255.8 L388.0,223.8Z" fill="#ececec" stroke="#222" stroke-width="0.9"/>
<path d="M386.6,230.1 L388.1,223.9 M388.2,230.9 L389.7,224.7 M389.7,231.7 L391.2,225.5 M391.2,232.6 L392.8,226.4 M392.8,233.4 L394.3,227.2 M394.3,234.2 L395.9,228.0 M395.9,235.1 L397.4,228.8 M397.4,235.9 L398.9,229.7 M398.9,236.7 L400.5,230.5 M400.5,237.5 L402.0,231.3 M402.0,238.4 L403.6,232.2 M403.6,239.2 L405.1,233.0 M405.1,240.0 L406.6,233.8 M406.7,240.9 L408.2,234.6 M408.2,241.7 L409.7,235.5 M409.7,242.5 L411.3,236.3 M411.3,243.3 L412.8,237.1 M412.8,244.2 L414.3,238.0 M414.4,245.0 L415.9,238.8 M415.9,245.8 L417.4,239.6 M417.4,246.7 L419.0,240.4 M419.0,247.5 L420.5,241.3 M420.5,248.3 L422.1,242.1 M422.1,249.1 L423.6,242.9 M423.6,250.0 L425.1,243.8 M425.1,250.8 L426.7,244.6 M426.7,251.6 L428.2,245.4 M428.2,252.5 L429.8,246.2 M429.8,253.3 L431.3,247.1 M431.3,254.1 L432.8,247.9 M432.9,254.9 L434.4,248.7 M434.4,255.8 L435.9,249.6 M435.9,256.6 L437.5,250.4 M437.5,257.4 L439.0,251.2 M439.0,258.3 L440.5,252.0 M440.6,259.1 L442.1,252.9 M442.1,259.9 L443.6,253.7 M443.6,260.8 L445.2,254.5" stroke="#444" stroke-width="0.6"/>
<ellipse cx="379" cy="278" rx="4.2" ry="3.2" transform="rotate(-28 379 278)" fill="#888" stroke="#222" stroke-width="0.9"/><ellipse cx="379.5" cy="277.8" rx="1.8" ry="1.4" fill="#fff" stroke="#222" stroke-width="0.5"/>
<ellipse cx="386" cy="237.5" rx="2.6" ry="4.5" transform="rotate(-20 386 237.5)" fill="#fff" stroke="#333" stroke-width="0.7"/>
<path d="M389,279 L397,272" stroke="#333" stroke-width="1.6"/>
<path d="M437,326 Q447,330 457,327 L460,331 Q456,339 449,341.5 L440,343 Q436,337 437,326 Z" fill="#dcdcdc" stroke="#444" stroke-width="0.6"/>
<path d="M383.5,312 L395,306.5 L398.5,312.5 L396.5,321 L401,327 L408,325.5 L409,318 M383.5,312 L386,322 L396.5,321" fill="#ececec" stroke="#222" stroke-width="0.8"/>
<path d="M406.5,301.8 L430.5,313 L427,320.8 L403,309.6 Z" fill="#fff" stroke="#222" stroke-width="0.9"/>
<ellipse cx="404.8" cy="305.7" rx="2.4" ry="4.3" transform="rotate(-25 404.8 305.7)" fill="#fff" stroke="#222" stroke-width="0.8"/>
<ellipse cx="431" cy="318" rx="2.8" ry="5.2" transform="rotate(-25 431 318)" fill="#555" stroke="#111" stroke-width="0.8"/>
<path d="M428,313 l2,-1.5 M427,316 l-2,-1 M427,320 l-2.5,0.5 M429,323.5 l-1,2 M433,323 l1,2 M434.5,318 l2,0 M434,314 l1.5,-1.5" stroke="#222" stroke-width="0.8"/>
<path d="M433,304.5 L445.5,310.5 Q449,313 446.5,316 Q444,317 441,315.5 L430,310.5 Q428,307.5 430,305 Q431.5,303.8 433,304.5 Z" fill="#fff" stroke="#222" stroke-width="0.9"/>
<path d="M433,307 L443.5,312" stroke="#444" stroke-width="0.6"/>
<circle cx="452.9" cy="321.4" r="6" fill="#e6e6e6" stroke="#222" stroke-width="1.2"/><circle cx="453.2" cy="321.6" r="3.2" fill="#bbb" stroke="#333" stroke-width="0.7"/>
<path d="M440,318 L447,314 L455,312 M430,337 L428,341 L436,343 M444,337 Q446,332 450,333" fill="none" stroke="#333" stroke-width="0.8"/>
<path d="M380,309 L383,318 M415,320 L412,326" stroke="#333" stroke-width="0.7"/>
<path d="M355,290 L393.5,278 Q404,278 406.3,290.8 Q405,300 398.6,302.4 L360,318 Z" fill="#fff" stroke="#222" stroke-width="1"/>
<path d="M359.86,389.51 L357.39,390.63 L354.77,391.46 L352.02,391.99 L349.15,392.21 L346.17,392.12 L343.11,391.73 L339.97,391.03 L336.78,390.03 L333.54,388.73 L330.27,387.14 L326.99,385.28 L323.71,383.13 L320.45,380.73 L317.23,378.07 L314.06,375.18 L310.96,372.06 L307.94,368.74 L305.02,365.22 L302.20,361.52 L299.52,357.67 L296.97,353.68 L294.57,349.57 L292.33,345.36 L290.26,341.07 L288.38,336.73 L286.69,332.34 L285.20,327.95 L283.92,323.56 L282.85,319.19 L282.00,314.88 L281.37,310.63 L280.97,306.47 L280.80,302.43 L280.86,298.52 L281.14,294.75 L281.65,291.15 L282.39,287.74 L283.35,284.53 L284.53,281.54 L285.91,278.78 L287.50,276.27 L289.29,274.01 L291.26,272.03 L293.42,270.32 L295.74,268.89 L301.92,265.61 L303.76,264.73 L305.68,264.03 L307.69,263.49 L309.76,263.13 L311.90,262.93 L314.11,262.91 L316.36,263.06 L318.67,263.39 L321.02,263.88 L323.40,264.55 L325.81,265.38 L328.24,266.38 L330.69,267.55 L333.15,268.87 L335.61,270.35 L338.07,271.98 L340.52,273.76 L342.94,275.68 L345.35,277.74 L347.72,279.93 L350.05,282.25 L352.34,284.69 L354.58,287.24 L356.76,289.90 L358.88,292.65 L360.94,295.50 L362.92,298.43 L364.81,301.43 L366.63,304.51 L368.35,307.64 L369.99,310.82 L371.52,314.04 L372.95,317.30 L374.27,320.57 L375.48,323.87 L376.58,327.17 L377.56,330.46 L378.42,333.75 L379.17,337.01 L379.78,340.24 L380.27,343.43 L380.64,346.57 L380.87,349.66 L380.98,352.68 L380.96,355.63 L380.81,358.50 L380.53,361.28 L380.13,363.96 L379.59,366.54 L378.94,369.00 L378.16,371.35 L377.25,373.57 L376.23,375.66 L375.10,377.62 L373.85,379.43 L372.49,381.10 L371.03,382.62 L369.46,383.98 L367.80,385.18 L366.05,386.22 Z" fill="#fff" stroke="#222" stroke-width="1"/>
<ellipse transform="translate(327.80,329.20) rotate(-28)" rx="38.93" ry="68.30" fill="#d3d3d3" stroke="#222" stroke-width="1"/>
<ellipse transform="translate(327.50,332.50) rotate(-28)" rx="20.70" ry="34.50" fill="#fff" stroke="#222" stroke-width="1"/>
<path d="M311.91,302.31 L313.01,301.34 L314.21,300.52 L315.48,299.84 L316.83,299.31 L318.25,298.94 L319.74,298.71 L321.28,298.65 L322.86,298.74 L324.49,298.98 L326.14,299.38 L327.82,299.93 L329.52,300.63 L331.22,301.48 L332.93,302.47 L334.62,303.60 L336.30,304.86 L337.95,306.24 L339.57,307.74 L341.14,309.35 L342.67,311.07 L344.14,312.88 L345.54,314.78 L346.88,316.76 L348.13,318.80 L349.31,320.90 L350.39,323.05 L351.39,325.24 L352.28,327.45 L353.07,329.68 L353.75,331.91 L354.32,334.13 L354.77,336.34 L355.11,338.52 L355.34,340.66 L355.44,342.76 L355.43,344.79 L355.30,346.76 L355.05,348.64 L354.68,350.44 L354.20,352.14" fill="none" stroke="#333" stroke-width="0.8"/>
<ellipse transform="translate(324.3,285.8) rotate(-28)" rx="3.6" ry="5.8" fill="#fff" stroke="#222" stroke-width="0.9"/>
<path d="M323.5,281 Q327.5,286 325,291" fill="none" stroke="#444" stroke-width="0.6"/>
<path d="M310.7,281.9 L288.6,293.6 L285.0,286.9 L307.1,275.1Z" fill="#fff" stroke="#222" stroke-width="0.9"/>
<path d="M289.7,293.0 Q285.4,291.0 286.1,286.3 M291.3,292.1 Q287.1,290.1 287.8,285.4 M293.0,291.2 Q288.8,289.2 289.5,284.5 M294.7,290.4 Q290.4,288.3 291.1,283.6 M296.4,289.5 Q292.1,287.4 292.8,282.8 M298.1,288.6 Q293.8,286.5 294.5,281.9 M299.7,287.7 Q295.5,285.6 296.2,281.0 M301.4,286.8 Q297.1,284.8 297.8,280.1 M303.1,285.9 Q298.8,283.9 299.5,279.2 M304.8,285.0 Q300.5,283.0 301.2,278.3 M306.4,284.1 Q302.2,282.1 302.9,277.4" fill="none" stroke="#333" stroke-width="0.7"/>
<ellipse transform="translate(286.8,290.2) rotate(-28)" rx="2.17" ry="3.80" fill="#fff" stroke="#222" stroke-width="0.9"/>
<path d="M296.0,322.3 L273.9,334.0 L270.3,327.3 L292.4,315.5Z" fill="#fff" stroke="#222" stroke-width="0.9"/>
<path d="M275.0,333.4 Q270.7,331.4 271.4,326.7 M276.6,332.5 Q272.4,330.5 273.1,325.8 M278.3,331.6 Q274.1,329.6 274.8,324.9 M280.0,330.8 Q275.7,328.7 276.4,324.0 M281.7,329.9 Q277.4,327.8 278.1,323.2 M283.4,329.0 Q279.1,326.9 279.8,322.3 M285.0,328.1 Q280.8,326.0 281.5,321.4 M286.7,327.2 Q282.4,325.2 283.1,320.5 M288.4,326.3 Q284.1,324.3 284.8,319.6 M290.1,325.4 Q285.8,323.4 286.5,318.7 M291.7,324.5 Q287.5,322.5 288.2,317.8" fill="none" stroke="#333" stroke-width="0.7"/>
<ellipse transform="translate(272.1,330.6) rotate(-28)" rx="2.17" ry="3.80" fill="#fff" stroke="#222" stroke-width="0.9"/>
<path d="M353.1,309.5 L331.0,321.2 L327.4,314.5 L349.5,302.7Z" fill="#fff" stroke="#222" stroke-width="0.9"/>
<path d="M332.1,320.6 Q327.8,318.6 328.5,313.9 M333.7,319.7 Q329.5,317.7 330.2,313.0 M335.4,318.8 Q331.2,316.8 331.9,312.1 M337.1,318.0 Q332.8,315.9 333.5,311.2 M338.8,317.1 Q334.5,315.0 335.2,310.4 M340.5,316.2 Q336.2,314.1 336.9,309.5 M342.1,315.3 Q337.9,313.2 338.6,308.6 M343.8,314.4 Q339.5,312.4 340.2,307.7 M345.5,313.5 Q341.2,311.5 341.9,306.8 M347.2,312.6 Q342.9,310.6 343.6,305.9 M348.8,311.7 Q344.6,309.7 345.3,305.0" fill="none" stroke="#333" stroke-width="0.7"/>
<ellipse transform="translate(329.2,317.8) rotate(-28)" rx="2.17" ry="3.80" fill="#fff" stroke="#222" stroke-width="0.9"/>
<path d="M370.3,366.0 L348.2,377.7 L344.6,371.0 L366.7,359.2Z" fill="#fff" stroke="#222" stroke-width="0.9"/>
<path d="M349.3,377.1 Q345.0,375.1 345.7,370.4 M350.9,376.2 Q346.7,374.2 347.4,369.5 M352.6,375.3 Q348.4,373.3 349.1,368.6 M354.3,374.5 Q350.0,372.4 350.7,367.7 M356.0,373.6 Q351.7,371.5 352.4,366.9 M357.7,372.7 Q353.4,370.6 354.1,366.0 M359.3,371.8 Q355.1,369.7 355.8,365.1 M361.0,370.9 Q356.7,368.9 357.4,364.2 M362.7,370.0 Q358.4,368.0 359.1,363.3 M364.4,369.1 Q360.1,367.1 360.8,362.4 M366.0,368.2 Q361.8,366.2 362.5,361.5" fill="none" stroke="#333" stroke-width="0.7"/>
<ellipse transform="translate(346.4,374.3) rotate(-28)" rx="2.17" ry="3.80" fill="#fff" stroke="#222" stroke-width="0.9"/>
<path d="M332.0,375.1 L309.9,386.8 L306.3,380.1 L328.4,368.3Z" fill="#fff" stroke="#222" stroke-width="0.9"/>
<path d="M311.0,386.2 Q306.7,384.2 307.4,379.5 M312.6,385.3 Q308.4,383.3 309.1,378.6 M314.3,384.4 Q310.1,382.4 310.8,377.7 M316.0,383.6 Q311.7,381.5 312.4,376.8 M317.7,382.7 Q313.4,380.6 314.1,376.0 M319.4,381.8 Q315.1,379.7 315.8,375.1 M321.0,380.9 Q316.8,378.8 317.5,374.2 M322.7,380.0 Q318.4,378.0 319.1,373.3 M324.4,379.1 Q320.1,377.1 320.8,372.4 M326.1,378.2 Q321.8,376.2 322.5,371.5 M327.7,377.3 Q323.5,375.3 324.2,370.6" fill="none" stroke="#333" stroke-width="0.7"/>
<ellipse transform="translate(308.1,383.4) rotate(-28)" rx="2.17" ry="3.80" fill="#fff" stroke="#222" stroke-width="0.9"/>
<ellipse transform="translate(275.88,359.96) rotate(-28.6)" rx="21.27" ry="34.30" fill="none" stroke="#222" stroke-width="1.3"/>
<ellipse transform="translate(274.65,360.63) rotate(-28.6)" rx="21.58" ry="34.80" fill="none" stroke="#aaa" stroke-width="3.4"/>
<ellipse transform="translate(273.60,361.20) rotate(-28.6)" rx="22.69" ry="36.60" fill="none" stroke="#111" stroke-width="1"/>
<ellipse transform="translate(273.60,361.20) rotate(-28.6)" rx="20.58" ry="33.20" fill="none" stroke="#222" stroke-width="0.9"/>
<path d="M251.44,539.00 L246.78,541.13 L241.85,542.71 L236.69,543.72 L231.30,544.17 L225.72,544.05 L219.98,543.35 L214.11,542.10 L208.12,540.28 L202.06,537.92 L195.95,535.02 L189.82,531.59 L183.70,527.66 L177.63,523.23 L171.62,518.34 L165.71,513.01 L159.93,507.26 L154.31,501.12 L148.87,494.62 L143.65,487.80 L138.66,480.67 L133.93,473.30 L129.48,465.69 L125.34,457.90 L121.52,449.96 L118.05,441.92 L114.94,433.80 L112.20,425.65 L109.85,417.50 L107.91,409.41 L106.37,401.40 L105.25,393.53 L104.56,385.81 L104.29,378.30 L104.45,371.03 L105.03,364.03 L106.04,357.34 L107.47,350.99 L109.32,345.02 L111.56,339.44 L114.20,334.30 L117.22,329.61 L120.60,325.39 L124.33,321.67 L128.39,318.47 L132.76,315.80 L143.35,310.16 L146.82,308.51 L150.45,307.18 L154.21,306.15 L158.11,305.44 L162.13,305.06 L166.26,304.99 L170.49,305.24 L174.81,305.81 L179.21,306.70 L183.67,307.90 L188.18,309.42 L192.74,311.25 L197.31,313.37 L201.91,315.80 L206.51,318.51 L211.09,321.51 L215.66,324.78 L220.18,328.32 L224.66,332.12 L229.08,336.16 L233.43,340.43 L237.69,344.93 L241.86,349.64 L245.92,354.55 L249.86,359.64 L253.67,364.90 L257.35,370.31 L260.87,375.87 L264.23,381.55 L267.43,387.35 L270.44,393.24 L273.27,399.20 L275.91,405.23 L278.35,411.30 L280.58,417.41 L282.60,423.52 L284.39,429.63 L285.97,435.72 L287.31,441.77 L288.42,447.76 L289.30,453.69 L289.94,459.52 L290.35,465.25 L290.51,470.87 L290.43,476.35 L290.11,481.67 L289.55,486.84 L288.75,491.83 L287.72,496.62 L286.45,501.21 L284.96,505.58 L283.23,509.72 L281.29,513.62 L279.14,517.27 L276.77,520.66 L274.20,523.78 L271.43,526.61 L268.48,529.16 L265.34,531.42 L262.04,533.37 Z" fill="#fff" stroke="#222" stroke-width="1.1"/>
<path d="M138.41,312.88 L143.21,311.03 L148.26,309.73 L153.54,309.00 L159.02,308.84 L164.68,309.24 L170.50,310.22 L176.43,311.75 L182.46,313.85 L188.55,316.48 L194.67,319.65 L200.80,323.33 L206.90,327.51 L212.94,332.17 L218.90,337.29 L224.75,342.83 L230.45,348.78 L235.99,355.10 L241.32,361.77 L246.43,368.75 L251.30,376.00 L255.89,383.50 L260.19,391.20 L264.17,399.07 L267.81,407.07 L271.11,415.15 L274.03,423.29 L276.58,431.44 L278.73,439.57 L280.47,447.62 L281.80,455.57 L282.70,463.37 L283.19,470.99 L283.24,478.38 L282.87,485.52 L282.07,492.37 L280.85,498.89 L279.21,505.06 L277.17,510.84 L274.72,516.20 L271.89,521.12 L268.69,525.58 L265.14,529.55 L261.24,533.01 L257.02,535.95" fill="none" stroke="#333" stroke-width="0.7"/>
<path d="M144.66,309.82 L149.59,308.24 L154.75,307.23 L160.14,306.78 L165.72,306.90 L171.46,307.60 L177.33,308.85 L183.32,310.67 L189.38,313.03 L195.49,315.93 L201.62,319.36 L207.74,323.29 L213.81,327.72 L219.82,332.61 L225.73,337.94 L231.51,343.69 L237.13,349.83 L242.57,356.33 L247.79,363.16 L252.78,370.28 L257.51,377.66 L261.96,385.26 L266.10,393.05 L269.92,400.99 L273.39,409.04 L276.50,417.15 L279.24,425.30 L281.59,433.45 L283.53,441.54 L285.07,449.55 L286.19,457.43 L286.88,465.14 L287.15,472.65 L286.99,479.92 L286.41,486.92 L285.40,493.61 L283.97,499.96 L282.12,505.93 L279.88,511.51 L277.24,516.65 L274.22,521.34 L270.84,525.56 L267.11,529.28 L263.05,532.48" fill="none" stroke="#333" stroke-width="0.7"/>
<path d="M148.3,309.7 L152.1,307.7" stroke="#555" stroke-width="0.6"/>
<path d="M154.9,308.9 L158.8,306.8" stroke="#555" stroke-width="0.6"/>
<path d="M161.8,309.0 L165.7,306.9" stroke="#555" stroke-width="0.6"/>
<path d="M169.0,309.9 L172.9,307.9" stroke="#555" stroke-width="0.6"/>
<path d="M176.4,311.8 L180.3,309.7" stroke="#555" stroke-width="0.6"/>
<path d="M184.0,314.5 L187.9,312.4" stroke="#555" stroke-width="0.6"/>
<path d="M191.6,318.0 L195.5,315.9" stroke="#555" stroke-width="0.6"/>
<path d="M199.3,322.4 L203.2,320.3" stroke="#555" stroke-width="0.6"/>
<path d="M206.9,327.5 L210.8,325.4" stroke="#555" stroke-width="0.6"/>
<path d="M214.4,333.4 L218.3,331.3" stroke="#555" stroke-width="0.6"/>
<path d="M221.8,340.0 L225.7,337.9" stroke="#555" stroke-width="0.6"/>
<path d="M229.0,347.3 L232.9,345.2" stroke="#555" stroke-width="0.6"/>
<path d="M236.0,355.1 L239.9,353.0" stroke="#555" stroke-width="0.6"/>
<path d="M242.6,363.5 L246.5,361.4" stroke="#555" stroke-width="0.6"/>
<path d="M248.9,372.3 L252.8,370.3" stroke="#555" stroke-width="0.6"/>
<path d="M254.8,381.6 L258.7,379.5" stroke="#555" stroke-width="0.6"/>
<path d="M260.2,391.2 L264.1,389.1" stroke="#555" stroke-width="0.6"/>
<path d="M265.1,401.1 L269.0,399.0" stroke="#555" stroke-width="0.6"/>
<path d="M269.5,411.1 L273.4,409.0" stroke="#555" stroke-width="0.6"/>
<path d="M273.3,421.3 L277.2,419.2" stroke="#555" stroke-width="0.6"/>
<path d="M276.6,431.4 L280.5,429.4" stroke="#555" stroke-width="0.6"/>
<path d="M279.2,441.6 L283.1,439.5" stroke="#555" stroke-width="0.6"/>
<path d="M281.2,451.6 L285.1,449.5" stroke="#555" stroke-width="0.6"/>
<path d="M282.5,461.4 L286.4,459.4" stroke="#555" stroke-width="0.6"/>
<path d="M283.2,471.0 L287.1,468.9" stroke="#555" stroke-width="0.6"/>
<path d="M283.2,480.2 L287.1,478.1" stroke="#555" stroke-width="0.6"/>
<path d="M282.5,489.0 L286.4,486.9" stroke="#555" stroke-width="0.6"/>
<path d="M281.2,497.3 L285.1,495.2" stroke="#555" stroke-width="0.6"/>
<path d="M279.2,505.1 L283.1,503.0" stroke="#555" stroke-width="0.6"/>
<path d="M276.6,512.2 L280.5,510.2" stroke="#555" stroke-width="0.6"/>
<path d="M273.4,518.7 L277.2,516.7" stroke="#555" stroke-width="0.6"/>
<path d="M269.5,524.5 L273.4,522.4" stroke="#555" stroke-width="0.6"/>
<path d="M265.1,529.5 L269.0,527.5" stroke="#555" stroke-width="0.6"/>
<ellipse transform="translate(192.10,427.40) rotate(-28)" rx="73.31" ry="126.40" fill="#d3d3d3" stroke="#222" stroke-width="1.1"/>
<g transform="translate(127.5,327.5) rotate(-27)"><ellipse rx="3.0" ry="4.6" fill="#fff" stroke="#222" stroke-width="0.9"/><path d="M0.0,-4.1 Q3.9,-1.6 1.5,3.3 Q1.0,-0.7 0.0,-4.1Z" fill="#111"/></g>
<g transform="translate(143.1,328.4) rotate(-27)"><ellipse rx="3.0" ry="4.6" fill="#fff" stroke="#222" stroke-width="0.9"/><path d="M0.0,-4.1 Q3.9,-1.6 1.5,3.3 Q1.0,-0.7 0.0,-4.1Z" fill="#111"/></g>
<g transform="translate(164.2,322) rotate(-27)"><ellipse rx="3.0" ry="4.6" fill="#fff" stroke="#222" stroke-width="0.9"/><path d="M0.0,-4.1 Q3.9,-1.6 1.5,3.3 Q1.0,-0.7 0.0,-4.1Z" fill="#111"/></g>
<g transform="translate(158.3,333) rotate(-27)"><ellipse rx="3.0" ry="4.6" fill="#fff" stroke="#222" stroke-width="0.9"/><path d="M0.0,-4.1 Q3.9,-1.6 1.5,3.3 Q1.0,-0.7 0.0,-4.1Z" fill="#111"/></g>
<g transform="translate(181.7,334) rotate(-27)"><ellipse rx="3.0" ry="4.6" fill="#fff" stroke="#222" stroke-width="0.9"/><path d="M0.0,-4.1 Q3.9,-1.6 1.5,3.3 Q1.0,-0.7 0.0,-4.1Z" fill="#111"/></g>
<g transform="translate(172.5,341.8) rotate(-27)"><ellipse rx="3.0" ry="4.6" fill="#fff" stroke="#222" stroke-width="0.9"/><path d="M0.0,-4.1 Q3.9,-1.6 1.5,3.3 Q1.0,-0.7 0.0,-4.1Z" fill="#111"/></g>
<g transform="translate(196.3,348.1) rotate(-27)"><ellipse rx="3.0" ry="4.6" fill="#fff" stroke="#222" stroke-width="0.9"/><path d="M0.0,-4.1 Q3.9,-1.6 1.5,3.3 Q1.0,-0.7 0.0,-4.1Z" fill="#111"/></g>
<g transform="translate(124.8,360.6) rotate(-27)"><ellipse rx="3.0" ry="4.6" fill="#fff" stroke="#222" stroke-width="0.9"/><path d="M0.0,-4.1 Q3.9,-1.6 1.5,3.3 Q1.0,-0.7 0.0,-4.1Z" fill="#111"/></g>
<g transform="translate(116.9,369.7) rotate(-27)"><ellipse rx="3.0" ry="4.6" fill="#fff" stroke="#222" stroke-width="0.9"/><path d="M0.0,-4.1 Q3.9,-1.6 1.5,3.3 Q1.0,-0.7 0.0,-4.1Z" fill="#111"/></g>
<g transform="translate(209.8,365.2) rotate(-27)"><ellipse rx="3.0" ry="4.6" fill="#fff" stroke="#222" stroke-width="0.9"/><path d="M0.0,-4.1 Q3.9,-1.6 1.5,3.3 Q1.0,-0.7 0.0,-4.1Z" fill="#111"/></g>
<g transform="translate(242.9,386.1) rotate(-27)"><ellipse rx="3.0" ry="4.6" fill="#fff" stroke="#222" stroke-width="0.9"/><path d="M0.0,-4.1 Q3.9,-1.6 1.5,3.3 Q1.0,-0.7 0.0,-4.1Z" fill="#111"/></g>
<g transform="translate(250.6,405.9) rotate(-27)"><ellipse rx="3.0" ry="4.6" fill="#fff" stroke="#222" stroke-width="0.9"/><path d="M0.0,-4.1 Q3.9,-1.6 1.5,3.3 Q1.0,-0.7 0.0,-4.1Z" fill="#111"/></g>
<g transform="translate(252.8,424.6) rotate(-27)"><ellipse rx="3.0" ry="4.6" fill="#fff" stroke="#222" stroke-width="0.9"/><path d="M0.0,-4.1 Q3.9,-1.6 1.5,3.3 Q1.0,-0.7 0.0,-4.1Z" fill="#111"/></g>
<path d="M107,359.5 Q124,340.5 153,344.3 Q155,346.2 153,347.6 Q128,344.6 109,361.8 Q106.5,361.5 107,359.5Z" fill="#fff" stroke="#333" stroke-width="0.8"/>
<path d="M205,339.5 Q237,369 243.3,411.4 Q241.8,412.5 241,411 Q233.5,373 204.6,341.3 Q204,340 205,339.5Z" fill="#fff" stroke="#333" stroke-width="0.75"/>
<path d="M246.2,434.5 q3,-2 6,0 t6,0 t6,0 t6,-0.5" fill="none" stroke="#222" stroke-width="0.9"/>
<ellipse transform="translate(192.39,430.08) rotate(-28)" rx="45.82" ry="79.00" fill="#fff" stroke="#222" stroke-width="1"/>
<path d="M191.43,518.36 L188.48,519.71 L185.36,520.71 L182.09,521.35 L178.68,521.63 L175.15,521.55 L171.52,521.12 L167.80,520.32 L164.01,519.17 L160.17,517.68 L156.31,515.84 L152.43,513.67 L148.55,511.18 L144.71,508.38 L140.91,505.29 L137.17,501.91 L133.51,498.27 L129.95,494.39 L126.51,490.27 L123.20,485.95 L120.04,481.45 L117.05,476.78 L114.24,471.96 L111.61,467.03 L109.20,462.01 L107.00,456.91 L105.03,451.78 L103.30,446.62 L101.81,441.46 L100.58,436.34 L99.61,431.28 L98.90,426.29 L98.46,421.41 L98.29,416.65 L98.39,412.05 L98.76,407.62 L99.40,403.39 L100.31,399.37 L101.47,395.59 L102.89,392.06 L104.56,388.80 L106.47,385.83 L108.61,383.16 L110.97,380.81 L113.54,378.78 L116.31,377.09 L154.54,356.76 L156.74,355.72 L159.03,354.87 L161.41,354.23 L163.88,353.78 L166.43,353.53 L169.04,353.49 L171.72,353.65 L174.45,354.01 L177.24,354.57 L180.06,355.34 L182.91,356.30 L185.80,357.45 L188.69,358.80 L191.60,360.33 L194.51,362.05 L197.41,363.95 L200.30,366.02 L203.17,368.26 L206.00,370.66 L208.80,373.22 L211.55,375.92 L214.25,378.77 L216.89,381.75 L219.46,384.86 L221.95,388.08 L224.36,391.41 L226.69,394.83 L228.92,398.35 L231.05,401.95 L233.07,405.62 L234.98,409.34 L236.77,413.12 L238.44,416.93 L239.98,420.78 L241.39,424.64 L242.67,428.51 L243.81,432.38 L244.80,436.23 L245.65,440.06 L246.36,443.85 L246.91,447.60 L247.32,451.30 L247.57,454.92 L247.68,458.48 L247.63,461.94 L247.42,465.32 L247.07,468.59 L246.57,471.74 L245.91,474.78 L245.11,477.68 L244.16,480.45 L243.07,483.07 L241.85,485.54 L240.48,487.85 L238.98,489.99 L237.35,491.96 L235.60,493.76 L233.73,495.37 L231.75,496.80 L229.66,498.04 Z" fill="#fff" stroke="none"/>
<path d="M191.4,518.4 L229.7,498.0" stroke="#222" stroke-width="1.1"/>
<path d="M142.05,432.89 L140.34,427.61 L138.88,422.33 L137.69,417.09 L136.76,411.91 L136.11,406.83 L135.73,401.86 L135.63,397.02 L135.81,392.35 L136.27,387.87 L137.01,383.59 L138.01,379.54 L139.28,375.74 L140.82,372.20 L142.60,368.95 L144.63,366.00 L146.90,363.36 L149.39,361.05 L152.09,359.08 L154.98,357.46 L158.07,356.19 L161.32,355.29 L164.72,354.75 L168.26,354.59 L171.91,354.79 L175.67,355.37 L179.51,356.31 L183.41,357.61 L187.36,359.27 L191.33,361.28 L195.30,363.62 L199.27,366.29 L203.19,369.27 L207.07,372.56 L210.87,376.12 L214.58,379.95 L218.19,384.02 L221.66,388.33 L225.00,392.83 L228.17,397.52 L231.17,402.37 L233.98,407.35 L236.58,412.45 L238.96,417.63 L241.12,422.88 L243.04,428.16 L244.71,433.45 L246.12,438.72 L247.27,443.95 L248.15,449.11 L248.76,454.18 L249.09,459.13 L249.14,463.94 L248.91,468.58 L248.40,473.03 L247.62,477.27 L246.57,481.28 L245.26,485.04 L243.68,488.53 L241.85,491.73 L239.78,494.63 L237.47,497.21 L234.95,499.46 L232.22,501.37 L229.29,502.94 L226.18,504.14 L222.90,504.98" fill="none" stroke="#333" stroke-width="0.7"/>
<path d="M140.7,420.2 L137.4,419.6 L135.2,406.6 L138.7,408.0Z" fill="#fff" stroke="#333" stroke-width="0.7"/>
<path d="M144.3,372.6 L141.2,368.9 L146.6,361.8 L149.4,365.9Z" fill="#fff" stroke="#333" stroke-width="0.7"/>
<path d="M178.8,359.3 L177.9,354.8 L187.9,358.4 L188.1,362.7Z" fill="#fff" stroke="#333" stroke-width="0.7"/>
<path d="M228.3,401.8 L230.6,399.9 L237.5,412.6 L234.8,413.7Z" fill="#fff" stroke="#333" stroke-width="0.7"/>
<path d="M246.5,456.9 L249.9,458.6 L249.7,470.6 L246.2,468.1Z" fill="#fff" stroke="#333" stroke-width="0.7"/>
<path d="M230.4,498.2 L232.8,502.5 L225.1,505.8 L223.1,501.2Z" fill="#fff" stroke="#333" stroke-width="0.7"/>
<path d="M117.30,376.91 L120.05,375.12 L122.98,373.67 L126.10,372.59 L129.37,371.86 L132.79,371.50 L136.34,371.51 L139.99,371.89 L143.74,372.63 L147.55,373.73 L151.43,375.20 L155.33,377.00 L159.25,379.15 L163.17,381.63 L167.06,384.43 L170.90,387.53 L174.69,390.92 L178.39,394.58 L181.99,398.49 L185.48,402.63 L188.83,406.99 L192.03,411.54 L195.06,416.26 L197.90,421.12 L200.55,426.10 L202.99,431.18 L205.21,436.33 L207.19,441.52 L208.93,446.74 L210.42,451.94 L211.65,457.12 L212.61,462.23 L213.30,467.27 L213.72,472.19 L213.86,476.98 L213.73,481.61 L213.32,486.06 L212.64,490.31 L211.68,494.34 L210.46,498.12 L208.98,501.64 L207.25,504.88 L205.28,507.83 L203.07,510.46 L200.63,512.77 L197.99,514.74 L195.15,516.37 L192.13,517.65" fill="none" stroke="#222" stroke-width="0.9"/>
<ellipse transform="translate(155.8,448.8) rotate(-30)" rx="46.7" ry="79.7" fill="#fff" stroke="#222" stroke-width="1.1"/>
<ellipse transform="translate(154.9,449.2) rotate(-30)" rx="45.2" ry="77.2" fill="none" stroke="#333" stroke-width="0.8"/>
<ellipse transform="translate(153.9,449.8) rotate(-30)" rx="43.6" ry="74.1" fill="#d3d3d3" stroke="#222" stroke-width="0.9"/>
<g transform="translate(138,403) rotate(-30)"><ellipse rx="2.8" ry="4.2" fill="#fff" stroke="#222" stroke-width="0.9"/><path d="M0.0,-3.8 Q3.6,-1.5 1.4,3.0 Q1.0,-0.6 0.0,-3.8Z" fill="#111"/></g>
<g transform="translate(128,408) rotate(-30)"><ellipse rx="2.8" ry="4.2" fill="#fff" stroke="#222" stroke-width="0.9"/><path d="M0.0,-3.8 Q3.6,-1.5 1.4,3.0 Q1.0,-0.6 0.0,-3.8Z" fill="#111"/></g>
<g transform="translate(152.8,411.2) rotate(-30)"><ellipse rx="2.8" ry="4.2" fill="#fff" stroke="#222" stroke-width="0.9"/><path d="M0.0,-3.8 Q3.6,-1.5 1.4,3.0 Q1.0,-0.6 0.0,-3.8Z" fill="#111"/></g>
<g transform="translate(121.4,419.5) rotate(-30)"><ellipse rx="2.8" ry="4.2" fill="#fff" stroke="#222" stroke-width="0.9"/><path d="M0.0,-3.8 Q3.6,-1.5 1.4,3.0 Q1.0,-0.6 0.0,-3.8Z" fill="#111"/></g>
<g transform="translate(167.7,421.1) rotate(-30)"><ellipse rx="2.8" ry="4.2" fill="#fff" stroke="#222" stroke-width="0.9"/><path d="M0.0,-3.8 Q3.6,-1.5 1.4,3.0 Q1.0,-0.6 0.0,-3.8Z" fill="#111"/></g>
<g transform="translate(116.5,432.7) rotate(-30)"><ellipse rx="2.8" ry="4.2" fill="#fff" stroke="#222" stroke-width="0.9"/><path d="M0.0,-3.8 Q3.6,-1.5 1.4,3.0 Q1.0,-0.6 0.0,-3.8Z" fill="#111"/></g>
<g transform="translate(180.9,437.7) rotate(-30)"><ellipse rx="2.8" ry="4.2" fill="#fff" stroke="#222" stroke-width="0.9"/><path d="M0.0,-3.8 Q3.6,-1.5 1.4,3.0 Q1.0,-0.6 0.0,-3.8Z" fill="#111"/></g>
<g transform="translate(123,452.5) rotate(-30)"><ellipse rx="2.8" ry="4.2" fill="#fff" stroke="#222" stroke-width="0.9"/><path d="M0.0,-3.8 Q3.6,-1.5 1.4,3.0 Q1.0,-0.6 0.0,-3.8Z" fill="#111"/></g>
<g transform="translate(184.2,455.8) rotate(-30)"><ellipse rx="2.8" ry="4.2" fill="#fff" stroke="#222" stroke-width="0.9"/><path d="M0.0,-3.8 Q3.6,-1.5 1.4,3.0 Q1.0,-0.6 0.0,-3.8Z" fill="#111"/></g>
<g transform="translate(133,469) rotate(-30)"><ellipse rx="2.8" ry="4.2" fill="#fff" stroke="#222" stroke-width="0.9"/><path d="M0.0,-3.8 Q3.6,-1.5 1.4,3.0 Q1.0,-0.6 0.0,-3.8Z" fill="#111"/></g>
<g transform="translate(189.1,474) rotate(-30)"><ellipse rx="2.8" ry="4.2" fill="#fff" stroke="#222" stroke-width="0.9"/><path d="M0.0,-3.8 Q3.6,-1.5 1.4,3.0 Q1.0,-0.6 0.0,-3.8Z" fill="#111"/></g>
<g transform="translate(146.2,487.2) rotate(-30)"><ellipse rx="2.8" ry="4.2" fill="#fff" stroke="#222" stroke-width="0.9"/><path d="M0.0,-3.8 Q3.6,-1.5 1.4,3.0 Q1.0,-0.6 0.0,-3.8Z" fill="#111"/></g>
<g transform="translate(184.2,488.8) rotate(-30)"><ellipse rx="2.8" ry="4.2" fill="#fff" stroke="#222" stroke-width="0.9"/><path d="M0.0,-3.8 Q3.6,-1.5 1.4,3.0 Q1.0,-0.6 0.0,-3.8Z" fill="#111"/></g>
<g transform="translate(159.4,493.8) rotate(-30)"><ellipse rx="2.8" ry="4.2" fill="#fff" stroke="#222" stroke-width="0.9"/><path d="M0.0,-3.8 Q3.6,-1.5 1.4,3.0 Q1.0,-0.6 0.0,-3.8Z" fill="#111"/></g>
<g transform="translate(172.6,492.1) rotate(-30)"><ellipse rx="2.8" ry="4.2" fill="#fff" stroke="#222" stroke-width="0.9"/><path d="M0.0,-3.8 Q3.6,-1.5 1.4,3.0 Q1.0,-0.6 0.0,-3.8Z" fill="#111"/></g>
<ellipse cx="141.2" cy="414.5" rx="1.8" ry="2.4" fill="#fff" stroke="#333" stroke-width="0.7"/>
<ellipse transform="translate(153.48,450.20) rotate(-28)" rx="18.27" ry="31.50" fill="#fff" stroke="#222" stroke-width="1"/>
<path d="M152.3,424.7 Q172,440 175,465.8" fill="none" stroke="#333" stroke-width="0.7"/>

<!--LABELS-->
<g id="labels">
<text x="0" y="279.5">SRP DRILLED/SLOTTED</text>
<text x="0" y="289.5">PATTERN ROTOR</text>
<text x="633.5" y="255.8">EXISTING BOLT</text>
<text x="581.1" y="314.7">EXISTING AXLE,</text>
<text x="581.1" y="324.7" xml:space="preserve">BEARING,  AND</text>
<text x="581.1" y="334.7">FLANGE</text>
<text x="432.5" y="398.8">EXISTING NUT</text>
<text x="537.5" y="456">FRONT OF VEHICLE</text>
<text x="537.5" y="466">LEFT HAND SIDE SHOWN</text>
<text x="322.2" y="486.3">HP PLAIN FACE PATERN ROTOR</text>
</g>
<g id="leaders" class="l">
<path d="M101 275 H108 L150 320"/>
<path d="M631 252 H625.6 L612 229"/>
<path d="M580 310.5 H572 L563 252"/>
<path d="M430 395.7 H423.7 L405.7 376"/>
<path d="M318 482.3 H312.9 L291.4 490"/>
<path d="M359.1 19.4 H365.7 L384 27.4"/>
<path d="M299.7 73.4 H305.4 L326.6 82"/>
<path d="M385.4 112.6 H390.7 L422 102.9"/>
<path d="M614.5 34.8 H610.4 L596 21.5"/>
<path d="M580.6 54 H575.8 L561.5 35.8"/>
<path d="M574.6 111.5 H569.8 L543.6 97.9"/>
<path d="M488.9 347.6 H483.4 L470.3 333.5"/>
<path d="M315.2 428 H309.8 L290.5 394.8"/>
<path d="M69.4 424 H75.1 L102 442.3"/>
</g>
<g id="callouts">
<circle class="c" cx="348.7" cy="19.3" r="10.3"/><text class="n" x="348.7" y="22.4">7</text>
<circle class="c" cx="289.3" cy="73" r="10.3"/><text class="n" x="289.3" y="76.2">8</text>
<circle class="c" cx="375" cy="112.5" r="10.3"/><text class="n" x="375" y="115.7">6</text>
<circle class="c" cx="624.4" cy="34.6" r="10.1"/><text class="n" x="624.4" y="37.8">5</text>
<circle class="c" cx="590.7" cy="54.1" r="10.1"/><text class="n" x="590.7" y="57.3">4</text>
<circle class="c" cx="584.8" cy="111.5" r="10.1"/><text class="n" x="584.8" y="114.7">3</text>
<circle class="c" cx="499.2" cy="347.8" r="10.3"/><text class="n" x="499.2" y="351">1</text>
<circle class="c" cx="325.6" cy="427.6" r="10.3"/><text class="n" x="325.6" y="430.8">9</text>
<circle class="c" cx="59.1" cy="424" r="10.3"/><text class="n" x="59.1" y="427.2">2</text>
</g>
<g id="arrow">
<path d="M596 440.8 L535.5 405" stroke="#111" stroke-width="1.6" fill="none"/>
<path d="M530.9 401.7 L541 402.3 L537.2 405.4 L534.8 410.3 Z" fill="#111"/>
</g>
</svg>
</body></html>
